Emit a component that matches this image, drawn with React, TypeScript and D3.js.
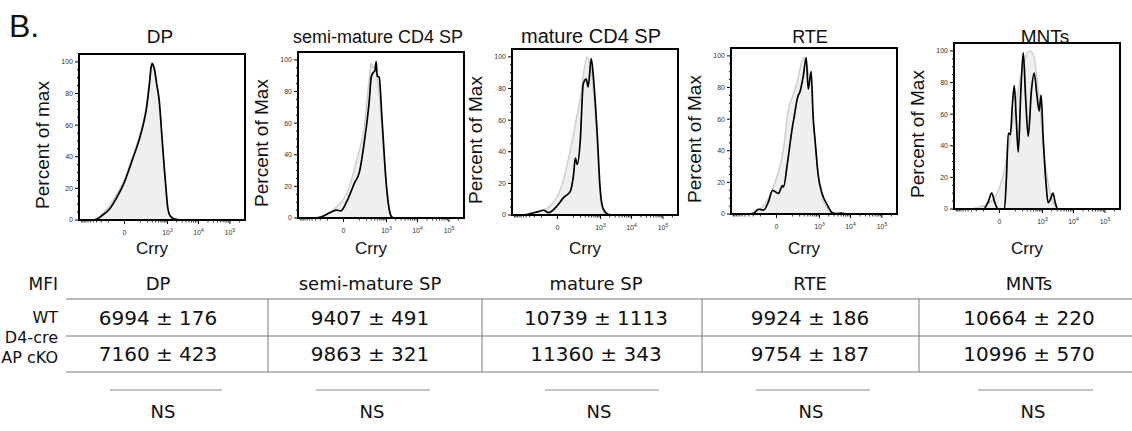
import React from "react";
import * as d3 from "d3";

// ---- data ----
const panelTitles = ["DP", "semi-mature CD4 SP", "mature CD4 SP", "RTE", "MNTs"];
const yAxisLabels = ["Percent of max", "Percent of Max", "Percent of Max", "Percent of Max", "Percent of Max"];
const markerName = "Crry";

// [Crry fluorescence, percent of max]
const wtDP: [number, number][] = [[-1200,0],[-450,0],[-320,0.8],[-180,4],[-88,9],[-35,16],[0,26],[35,40],[88,53],[150,66],[177,72],[230,87],[273,97],[297,100],[320,98],[351,95],[430,85],[523,74],[661,49],[780,31],[899,17],[1000,8],[1130,3],[1400,1],[1905,0.3],[3000,0],[300000,0]];
const koDP: [number, number][] = [[-1200,0],[-400,0],[-300,0.5],[-180,3],[-88,7],[-35,14],[0,24],[35,38],[88,51],[150,64],[177,70],[230,85],[273,97],[297,99],[320,98],[351,96],[430,86],[523,76],[661,51],[780,33],[899,19],[1000,9],[1130,4],[1400,1.5],[1905,0.5],[3000,0],[300000,0]];

const wtSemi: [number, number][] = [[-1200,0],[-260,0],[-109,2],[-30,7],[11,15],[79,38],[161,58],[251,88],[297,98],[340,95],[400,97],[484,88],[566,78],[715,55],[970,20],[1216,4],[1520,0.3],[2000,0],[300000,0]];
const koSemi: [number, number][] = [[-1200,0],[-300,0],[-211,0.5],[-120,2],[-60,4],[-30,5],[-10,4.5],[11,10],[55,22],[99,29],[161,48],[251,74],[297,89],[351,92],[400,93],[447,99],[484,90],[566,89],[715,61],[970,23],[1216,6],[1520,0.5],[2000,0],[300000,0]];

const wtMature: [number, number][] = [[-1200,0],[-500,0],[-250,1],[-41,5],[20,20],[70,41],[147,64],[200,75],[270,92],[351,100],[420,96],[484,92],[566,80],[773,45],[970,12],[1216,3],[1600,0.3],[2200,0],[300000,0]];
const koMature: [number, number][] = [[-1200,0],[-500,0],[-351,0.5],[-150,2],[-79,3],[-41,1.5],[0,6],[25,11],[70,15],[100,25],[121,36],[147,32],[193,47],[251,83],[323,86],[380,81],[484,99],[566,89],[773,52],[970,17],[1216,4],[1770,0.5],[2500,0],[300000,0]];

const wtRTE: [number, number][] = [[-1200,0],[-300,0],[-193,1],[-35,10],[-3,21],[30,41],[62,66],[100,74],[161,84],[251,97],[300,99],[351,96],[412,90],[523,82],[612,62],[715,45],[899,24],[1216,10],[1770,4],[2205,1],[3000,0],[300000,0]];
const koRTE: [number, number][] = [[-1200,0],[-300,0],[-193,0.5],[-121,3],[-70,2.5],[-35,8],[-15,15],[7,13],[25,18],[30,17],[55,32],[99,55],[121,62],[161,73],[211,78],[273,87],[351,99],[412,79],[523,90],[612,61],[715,46],[899,25],[1216,13],[1770,6],[2560,1],[3500,0.3],[5330,0.6],[7000,0],[300000,0]];

const wtMNT: [number, number][] = [[-1200,0],[-300,0],[-231,0.5],[-35,5],[20,25],[62,50],[177,85],[351,100],[484,98],[773,70],[1130,35],[1905,8],[3190,0],[300000,0]];
const koMNT: [number, number][] = [[-1200,0],[-99,0],[-55,5],[-35,10],[-18,4],[-5,0],[20,0],[30,20],[41,48],[55,47],[70,65],[88,78],[110,55],[133,36],[170,75],[211,99],[260,70],[323,46],[420,75],[523,86],[650,72],[773,62],[899,72],[1050,45],[1310,16],[1520,4],[1800,6],[2205,10],[2600,4],[3190,0],[300000,0]];

const wtSeries = [wtDP, wtSemi, wtMature, wtRTE, wtMNT];
const koSeries = [koDP, koSemi, koMature, koRTE, koMNT];

// MFI table
const tableColumns = ["DP", "semi-mature SP", "mature SP", "RTE", "MNTs"];
const rowLabels = ["WT", "D4-cre", "AP cKO"];
const wtMean = [6994, 9407, 10739, 9924, 10664];
const wtSem = [176, 491, 1113, 186, 220];
const koMean = [7160, 9863, 11360, 9754, 10996];
const koSem = [423, 321, 343, 187, 570];
const significance = ["NS", "NS", "NS", "NS", "NS"];

// ---- layout ----
const W = 1132;
const H = 431;
const panelLeft = [79, 298, 512, 731, 954];
const panelTop = [54, 52, 49, 48, 43];
const titleDx = [-2, -3, -4, -4, 8];
const titleSize = [19, 18, 20, 18, 19];
const PW = 166;
const PH = 166;

const colCenters = [158, 370, 596, 810, 1029];
const dividers = [66, 268, 482, 702, 919];
const nsLines = [[110, 222], [316, 430], [545, 659], [756, 870], [978, 1093]];
const nsCenters = [163, 372, 599, 811, 1033];

const plotFont = "'Liberation Sans', Arial, sans-serif";
const tableFont = "'DejaVu Sans', Verdana, sans-serif";

const xMajor = [0, 1e3, 1e4, 1e5];
const xMinor = [
  ...d3.range(-1000, 0, 100),
  ...d3.range(100, 1000, 100),
  ...d3.range(2e3, 1e4, 1e3),
  ...d3.range(2e4, 1e5, 1e4),
  2e5,
];

function tickLabel(v: number) {
  if (v === 0) return <tspan>0</tspan>;
  const e = Math.round(Math.log10(v));
  return (
    <>
      <tspan>10</tspan>
      <tspan fontSize={5} dy={-3}>{e}</tspan>
    </>
  );
}

function Histogram({ i }: { i: number }) {
  const left = panelLeft[i];
  const top = panelTop[i];
  const x = d3.scaleSymlog().constant(45).domain([-1200, 300000]).range([left, left + PW]);
  const y = d3.scaleLinear().domain([0, 105]).range([top + PH, top]);

  const area = d3
    .area<[number, number]>()
    .x((d) => x(d[0]))
    .y0(y(0))
    .y1((d) => y(d[1]))
    .curve(d3.curveMonotoneX);
  const line = d3
    .line<[number, number]>()
    .x((d) => x(d[0]))
    .y((d) => y(d[1]))
    .curve(d3.curveMonotoneX);

  const clipId = "clip" + i;
  const cx = left + PW / 2;

  return (
    <g>
      <defs>
        <clipPath id={clipId}>
          <rect x={left} y={top} width={PW} height={PH} />
        </clipPath>
      </defs>
      <text x={cx + titleDx[i]} y={43} textAnchor="middle" fontFamily={plotFont} fontSize={titleSize[i]} fill="#111">
        {panelTitles[i]}
      </text>
      <g clipPath={`url(#${clipId})`}>
        <path d={area(wtSeries[i]) || ""} fill="#efefef" stroke="#cdcdcd" strokeWidth={1.4} />
        <path d={line(koSeries[i]) || ""} fill="none" stroke="#000" strokeWidth={1.7} strokeLinejoin="round" />
      </g>
      <rect x={left} y={top} width={PW} height={PH} fill="none" stroke="#000" strokeWidth={2} />

      {/* y axis */}
      {d3.range(0, 101, 5).map((t) => (
        <line key={"ym" + t} x1={left} x2={left - (t % 20 === 0 ? 4 : 2)} y1={y(t)} y2={y(t)} stroke="#000" strokeWidth={1} />
      ))}
      {d3.range(0, 101, 20).map((t) => (
        <text key={"yl" + t} x={left - 6} y={y(t)} dy="0.35em" textAnchor="end" fontFamily={plotFont} fontSize={7} fill="#333">
          {t}
        </text>
      ))}
      <text
        transform={`translate(${left - 30},${top + PH / 2 + 8}) rotate(-90)`}
        textAnchor="middle"
        fontFamily={plotFont}
        fontSize={19}
        fill="#111"
      >
        {yAxisLabels[i]}
      </text>

      {/* x axis */}
      {xMinor.map((t) => (
        <line key={"xm" + t} x1={x(t)} x2={x(t)} y1={top + PH} y2={top + PH + 2.5} stroke="#000" strokeWidth={0.8} />
      ))}
      {xMajor.map((t) => (
        <line key={"xM" + t} x1={x(t)} x2={x(t)} y1={top + PH} y2={top + PH + 4} stroke="#000" strokeWidth={1} />
      ))}
      {xMajor.map((t) => (
        <text key={"xl" + t} x={x(t)} y={top + PH + 15} textAnchor="middle" fontFamily={plotFont} fontSize={7} fill="#333">
          {tickLabel(t)}
        </text>
      ))}
      <text x={cx - 10} y={254} textAnchor="middle" fontFamily={plotFont} fontSize={17} fill="#111">
        {markerName}
      </text>
    </g>
  );
}

function MfiTable() {
  const fmt = (m: number, s: number) => `${m} \u00b1 ${s}`;
  const tableTop = 299;
  const tableMid = 336;
  const tableBottom = 372;
  return (
    <g fontFamily={tableFont} fill="#111">
      <text x={58} y={290} textAnchor="end" fontSize={17}>MFI</text>
      {tableColumns.map((c, i) => (
        <text key={c} x={colCenters[i]} y={290} textAnchor="middle" fontSize={18}>{c}</text>
      ))}
      <line x1={dividers[0]} x2={W} y1={tableTop} y2={tableTop} stroke="#777" strokeWidth={1} />
      <line x1={dividers[0]} x2={W} y1={tableMid} y2={tableMid} stroke="#777" strokeWidth={1} />
      <line x1={dividers[0]} x2={W} y1={tableBottom} y2={tableBottom} stroke="#777" strokeWidth={1} />
      {dividers.slice(1).map((d) => (
        <line key={d} x1={d} x2={d} y1={tableTop} y2={tableBottom} stroke="#777" strokeWidth={1} />
      ))}
      <text x={58} y={323} textAnchor="end" fontSize={16}>{rowLabels[0]}</text>
      <text x={58} y={343} textAnchor="end" fontSize={16}>{rowLabels[1]}</text>
      <text x={58} y={363} textAnchor="end" fontSize={16}>{rowLabels[2]}</text>
      {wtMean.map((m, i) => (
        <text key={"wt" + i} x={colCenters[i]} y={325} textAnchor="middle" fontSize={20}>{fmt(m, wtSem[i])}</text>
      ))}
      {koMean.map((m, i) => (
        <text key={"ko" + i} x={colCenters[i]} y={361} textAnchor="middle" fontSize={20}>{fmt(m, koSem[i])}</text>
      ))}
      {nsLines.map((l, i) => (
        <line key={"ns" + i} x1={l[0]} x2={l[1]} y1={390} y2={390} stroke="#888" strokeWidth={1} />
      ))}
      {significance.map((s, i) => (
        <text key={"nst" + i} x={nsCenters[i]} y={418} textAnchor="middle" fontSize={18}>{s}</text>
      ))}
    </g>
  );
}

export default function App() {
  return (
    <svg width={W} height={H} style={{ position: "absolute", left: 0, top: 0, background: "#fff" }}>
      <rect width={W} height={H} fill="#fff" />
      <text x={9} y={37} fontFamily={plotFont} fontSize={32} fill="#111">B.</text>
      {panelTitles.map((_, i) => (
        <Histogram key={i} i={i} />
      ))}
      <MfiTable />
    </svg>
  );
}
